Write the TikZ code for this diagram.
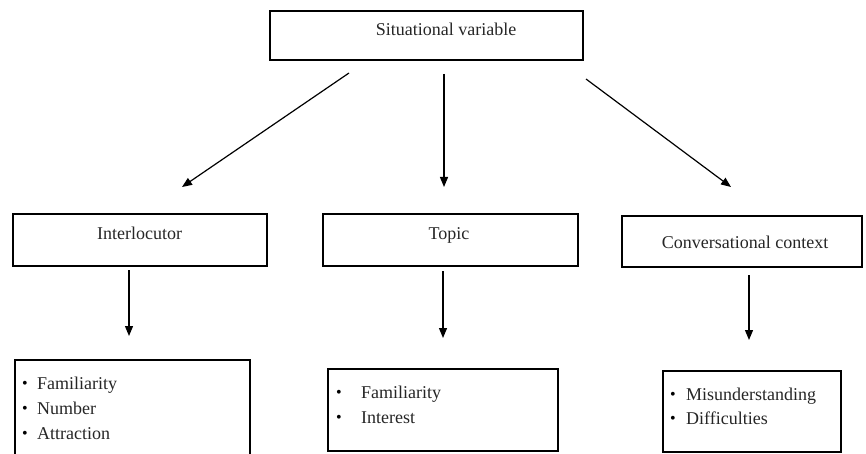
\documentclass[tikz,border=0pt]{standalone}
\usepackage{fontspec}
\setmainfont{Liberation Serif}
\usetikzlibrary{arrows.meta}
\begin{document}
\begin{tikzpicture}[x=1pt,y=-1pt,
  box/.style={draw, line width=1.9pt, rectangle, inner sep=0pt},
  lbl/.style={anchor=base, inner sep=0pt, font=\fontsize{18}{22}\selectfont, text=black!85},
  item/.style={anchor=base west, inner sep=0pt, font=\fontsize{18}{22}\selectfont, text=black!85},
  bul/.style={anchor=base, inner sep=0pt, font=\fontsize{16}{18}\selectfont},
  arr/.style={-{Triangle[length=10pt,width=8pt]}, line width=1.2pt}]
\useasboundingbox (0,0) rectangle (866,454);
\clip (0,0) rectangle (866,454);

% top box
\node[box, minimum width=313pt, minimum height=49pt] (sv) at (426.5,35.5) {};
\node[lbl] (svt) at (446,36) {Situational variable};

% middle boxes
\node[box, minimum width=254pt, minimum height=52pt] (inter) at (140,240) {};
\node[lbl] (intert) at (139.5,240) {Interlocutor};
\node[box, minimum width=255pt, minimum height=52pt] (topic) at (450.5,240) {};
\node[lbl] (topict) at (449,239) {Topic};
\node[box, minimum width=240pt, minimum height=51pt] (conv) at (742,241.5) {};
\node[lbl] (convt) at (745,248) {Conversational context};

% bottom boxes
\node[box, minimum width=235pt, minimum height=100pt] (interl) at (132.5,410) {};
\node[bul] (ib1) at (25,388) {\textbullet};
\node[item] (ii1) at (37,389) {Familiarity};
\node[bul] (ib2) at (25,413) {\textbullet};
\node[item] (ii2) at (37,414) {Number};
\node[bul] (ib3) at (25,438) {\textbullet};
\node[item] (ii3) at (37,439) {Attraction};

\node[box, minimum width=230pt, minimum height=82pt] (topicl) at (443,410) {};
\node[bul] (tb1) at (339,397) {\textbullet};
\node[item] (ti1) at (361,398) {Familiarity};
\node[bul] (tb2) at (339,422) {\textbullet};
\node[item] (ti2) at (361,423) {Interest};

\node[box, minimum width=178pt, minimum height=81pt] (convl) at (752,411.5) {};
\node[bul] (cb1) at (673,399) {\textbullet};
\node[item] (ci1) at (686,400) {Misunderstanding};
\node[bul] (cb2) at (673,423) {\textbullet};
\node[item] (ci2) at (686,424) {Difficulties};

% arrow end points
\coordinate (a1s) at (349,73);
\coordinate (a1e) at (182,187);
\coordinate (a2s) at (444,74);
\coordinate (a2e) at (444,187);
\coordinate (a3s) at (586,79);
\coordinate (a3e) at (731,187);
\coordinate (b1s) at (129,270);
\coordinate (b1e) at (129,336);
\coordinate (b2s) at (443,271);
\coordinate (b2e) at (443,338);
\coordinate (b3s) at (749,275);
\coordinate (b3e) at (749,340);

\draw[arr] (a1s) -- (a1e);
\draw[arr] (a2s) -- (a2e);
\draw[arr] (a3s) -- (a3e);
\draw[arr] (b1s) -- (b1e);
\draw[arr] (b2s) -- (b2e);
\draw[arr] (b3s) -- (b3e);
\end{tikzpicture}
\end{document}
